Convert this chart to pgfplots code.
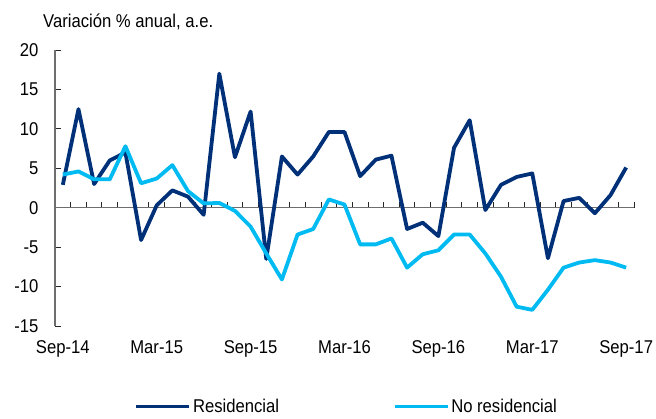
\documentclass[border=0pt]{standalone}
\usepackage{fontspec}
\setmainfont{Liberation Sans}[FakeStretch=0.9]
\usepackage{pgfplots}
\usepackage{pgfplotstable}
\pgfplotsset{compat=1.18}
\definecolor{resid}{RGB}{0,48,120}
\definecolor{nores}{RGB}{0,186,242}
\definecolor{axgray}{RGB}{110,110,110}
\pgfplotstableread{
i res nores
0 2.9 4.2
1 12.5 4.6
2 3.0 3.6
3 6.0 3.6
4 7.0 7.8
5 -4.1 3.1
6 0.3 3.7
7 2.2 5.4
8 1.4 2.1
9 -0.9 0.55
10 17.0 0.6
11 6.4 -0.4
12 12.2 -2.4
13 -6.5 -5.8
14 6.5 -9.1
15 4.2 -3.4
16 6.5 -2.7
17 9.6 1.05
18 9.6 0.4
19 4.0 -4.65
20 6.1 -4.65
21 6.6 -3.9
22 -2.7 -7.6
23 -1.9 -5.9
24 -3.6 -5.4
25 7.6 -3.4
26 11.1 -3.4
27 -0.3 -5.8
28 2.9 -8.75
29 3.9 -12.55
30 4.35 -12.95
31 -6.4 -10.4
32 0.85 -7.6
33 1.25 -6.95
34 -0.7 -6.65
35 1.6 -6.95
36 5.1 -7.6
}\datatable
\newcommand{\chartfont}{\fontsize{18.5bp}{22bp}\selectfont}
\begin{document}
\begin{tikzpicture}[font=\chartfont]
\path[use as bounding box] (0,0) rectangle (656bp,419bp);
\node[anchor=base west, inner sep=0pt] at (43bp,391bp) {Variación \% anual, a.e.};
% label axis (bottom tick labels)
\begin{axis}[at={(55bp,93bp)}, anchor=south west, scale only axis,
  width=579bp, height=276bp, xmin=-0.5, xmax=36.5, ymin=-15, ymax=20,
  axis x line=bottom, axis y line=none, x axis line style={draw=none},
  major tick length=0pt,
  xtick={0,6,12,18,24,30,36},
  xticklabels={Sep-14,Mar-15,Sep-15,Mar-16,Sep-16,Mar-17,Sep-17},
  xticklabel style={font=\chartfont, yshift=-11bp},
  ]
\end{axis}
\begin{axis}[at={(55bp,93bp)}, anchor=south west, scale only axis,
  width=579bp, height=276bp, xmin=-0.5, xmax=36.5, ymin=-15, ymax=20,
  axis x line=middle, axis y line=left,
  axis line style={draw=axgray, line width=1.3bp, -},
  tick style={draw=black!85, line width=0.9bp},
  tick align=inside, major tick length=6bp,
  xtick={-0.5,0.5,...,36.5}, xticklabels={},
  ytick={-15,-10,...,20},
  yticklabel style={font=\chartfont, xshift=-13bp},
  /pgf/number format/assume math mode=true,
  clip=false,
  legend style={at={(0.504,-0.293)}, anchor=center, draw=none, fill=none,
    legend columns=2, font=\chartfont,
    /tikz/every even column/.append style={column sep=112bp},
    inner sep=0pt},
  legend cell align=left,
  legend image code/.code={\draw[#1,line width=3.2bp] (0bp,0bp) -- (53bp,0bp);},
  ]
\addplot[resid, line width=3.8bp, line join=round] table[x=i, y=res] {\datatable};
\addlegendentry{Residencial}
\addplot[nores, line width=3.8bp, line join=round] table[x=i, y=nores] {\datatable};
\addlegendentry{No residencial}
\end{axis}
\end{tikzpicture}
\end{document}
